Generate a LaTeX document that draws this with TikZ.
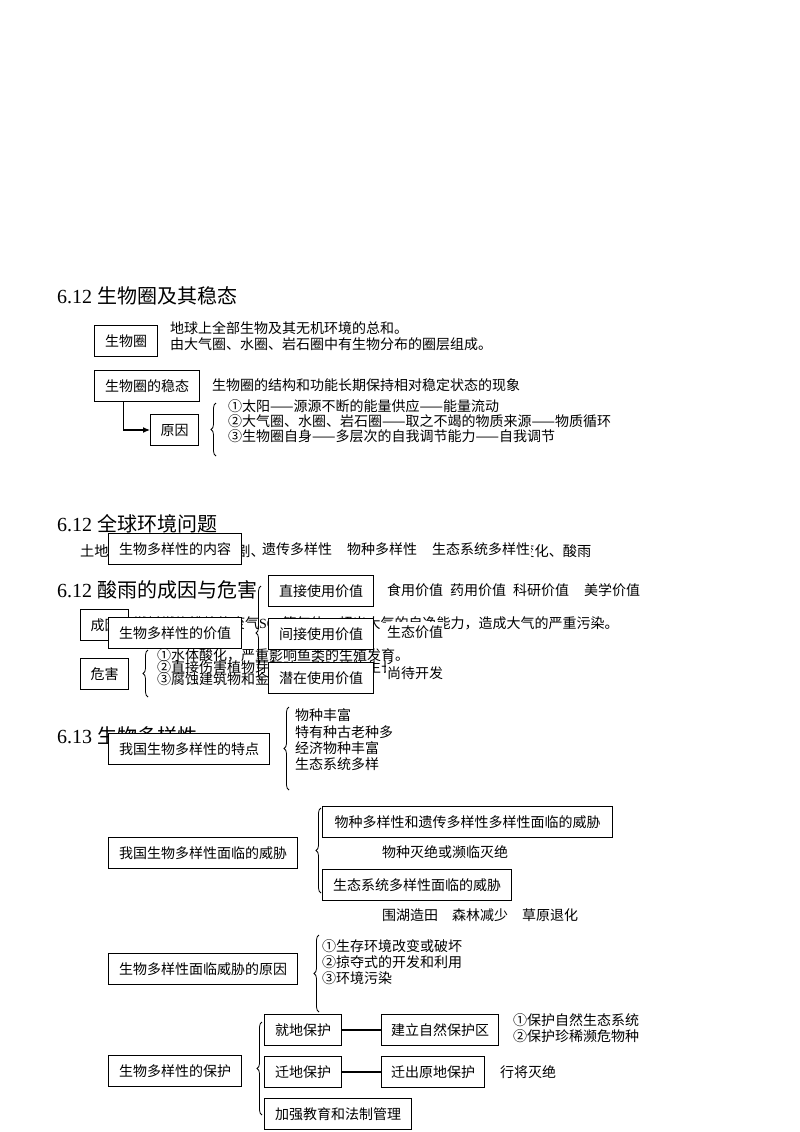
\documentclass[tikz,border=0pt]{standalone}
\usepackage{fontspec}
\setmainfont{Liberation Serif}
\newfontfamily\cjk{Noto Sans CJK SC}
\usetikzlibrary{positioning,arrows.meta,decorations.pathreplacing}

\begin{document}
\begin{tikzpicture}
        [x=1pt, y=-1pt,
        every node/.style={inner sep=0pt, anchor=west, font=\cjk\fontsize{14}{16}\selectfont},
        box/.style={draw=black, line width=1.1pt, fill=white, minimum height=31pt, inner xsep=10.5pt},
        head/.style={anchor=base west, font=\fontsize{20}{24}\selectfont},
        cover/.style={fill=white, inner xsep=1pt, inner ysep=3pt},
        brace/.style={decorate, decoration={brace, amplitude=5pt}, line width=0.8pt},
        link/.style={line width=1.1pt}]
        \useasboundingbox (0,0) rectangle (800,1132);

        % 6.12 biosphere
        \node [head] (h1) at (57,303) {6.12 {\cjk 生物圈及其稳态}};
        \node [box] (swq) at (94,341) {生物圈};
        \node (swq1) at (170,328) {地球上全部生物及其无机环境的总和。};
        \node (swq2) at (170,344) {由大气圈、水圈、岩石圈中有生物分布的圈层组成。};
        \node [box] (wt) at (94,386) {生物圈的稳态};
        \node (wt1) at (212,385) {生物圈的结构和功能长期保持相对稳定状态的现象};
        \node [box, inner xsep=10pt] (yy) at (150,430) {原因};
        \draw [link, -{Latex[length=7pt, width=6pt]}] ([xshift=-24pt]wt.south) |- (yy.west);
        \coordinate (yyb1) at (216,456);
        \coordinate (yyb2) at (216,403);
        \draw [brace] (yyb1) -- (yyb2);
        \node (yy1) at (228,406) {①太阳——源源不断的能量供应——能量流动};
        \node (yy2) at (228,421) {②大气圈、水圈、岩石圈——取之不竭的物质来源——物质循环};
        \node (yy3) at (228,436) {③生物圈自身——多层次的自我调节能力——自我调节};

        % 6.12 global problems and acid rain (lower layer)
        \node [head] (h2) at (57,531) {6.12 {\cjk 全球环境问题}};
        \node [font=\cjk\fontsize{14.2}{16}\selectfont] (hj) at (80,551) {土地沙漠化及水土流失加剧、生物多样性锐减、臭氧层破坏、全球气候变化、酸雨};
        \node [head] (h3) at (57,597) {6.12 {\cjk 酸雨的成因与危害}};
        \node [box, inner xsep=10pt] (cy) at (80,625) {成因};
        \node (cy1) at (133,624) {燃料燃烧排放的废气{\rmfamily SO$_2$}等气体，超出大气的自净能力，造成大气的严重污染。};
        \node [box, inner xsep=10pt] (wh) at (80,674) {危害};
        \coordinate (whb1) at (148,697);
        \coordinate (whb2) at (148,650);
        \draw [brace] (whb1) -- (whb2);
        \node (wh1) at (157,655) {①水体酸化，严重影响鱼类的生殖发育。};
        \node (wh2) at (157,667) {②直接伤害植物芽和叶，影响植物生长};
        \node (wh3) at (157,679) {③腐蚀建筑物和金属材料。};
        \node [head] (h4) at (57,743) {6.13 {\cjk 生物多样性}};

        % biodiversity (upper layer)
        \node [box] (nr) at (108,549) {生物多样性的内容};
        \node [cover] (nr1) at (261,549) {遗传多样性\hspace{15pt}物种多样性\hspace{15pt}生态系统多样性\hspace{9pt}};
        \node [box] (jz) at (108,633) {生物多样性的价值};
        \node [box] (zj) at (268,591) {直接使用价值};
        \node [box] (jj) at (268,634) {间接使用价值};
        \node [box] (qz) at (268,678) {潜在使用价值};
        \coordinate (jzb1) at (261,680);
        \coordinate (jzb2) at (261,586);
        \draw [brace] (jzb1) -- (jzb2);
        \node [cover] (zj1) at (386,590) {食用价值\hspace{7pt}药用价值\hspace{7pt}科研价值\hspace{15pt}美学价值};
        \node [cover] (jj1) at (386,632) {生态价值};
        \node [cover] (qz1) at (386,673) {尚待开发};

        \node [box] (td) at (108,749) {我国生物多样性的特点};
        \coordinate (tdb1) at (289,790);
        \coordinate (tdb2) at (289,707);
        \draw [brace] (tdb1) -- (tdb2);
        \node (td1) at (295,715) {物种丰富};
        \node (td2) at (295,732) {特有种古老种多};
        \node (td3) at (295,748) {经济物种丰富};
        \node (td4) at (295,764) {生态系统多样};

        \node [box] (wx) at (108,853) {我国生物多样性面临的威胁};
        \coordinate (wxb1) at (321,893);
        \coordinate (wxb2) at (321,808);
        \draw [brace] (wxb1) -- (wxb2);
        \node [box, inner xsep=12pt] (wx1) at (322,822) {物种多样性和遗传多样性多样性面临的威胁};
        \node (wx1a) at (382,852) {物种灭绝或濒临灭绝};
        \node [box] (wx2) at (322,885) {生态系统多样性面临的威胁};
        \node (wx2a) at (382,915) {围湖造田\hspace{14pt}森林减少\hspace{14pt}草原退化};

        \node [box] (wxy) at (108,969) {生物多样性面临威胁的原因};
        \coordinate (wxyb1) at (319,1012);
        \coordinate (wxyb2) at (319,935);
        \draw [brace] (wxyb1) -- (wxyb2);
        \node (wxy1) at (322,946) {①生存环境改变或破坏};
        \node (wxy2) at (322,962) {②掠夺式的开发和利用};
        \node (wxy3) at (322,978) {③环境污染};

        \node [box] (bh) at (108,1071) {生物多样性的保护};
        \coordinate (bhb1) at (262,1115);
        \coordinate (bhb2) at (262,1022);
        \draw [brace] (bhb1) -- (bhb2);
        \node [box] (jd) at (264,1030) {就地保护};
        \node [box] (qd) at (264,1072) {迁地保护};
        \node [box] (jq) at (264,1114) {加强教育和法制管理};
        \node [box, inner xsep=9.5pt] (zrq) at (381,1030) {建立自然保护区};
        \node [box, inner xsep=9.5pt] (qc) at (381,1072) {迁出原地保护};
        \draw [link] (jd) -- (zrq);
        \draw [link] (qd) -- (qc);
        \node (zrq1) at (513,1020) {①保护自然生态系统};
        \node (zrq2) at (513,1036) {②保护珍稀濒危物种};
        \node (qc1) at (500,1072) {行将灭绝};
\end{tikzpicture}
\end{document}
